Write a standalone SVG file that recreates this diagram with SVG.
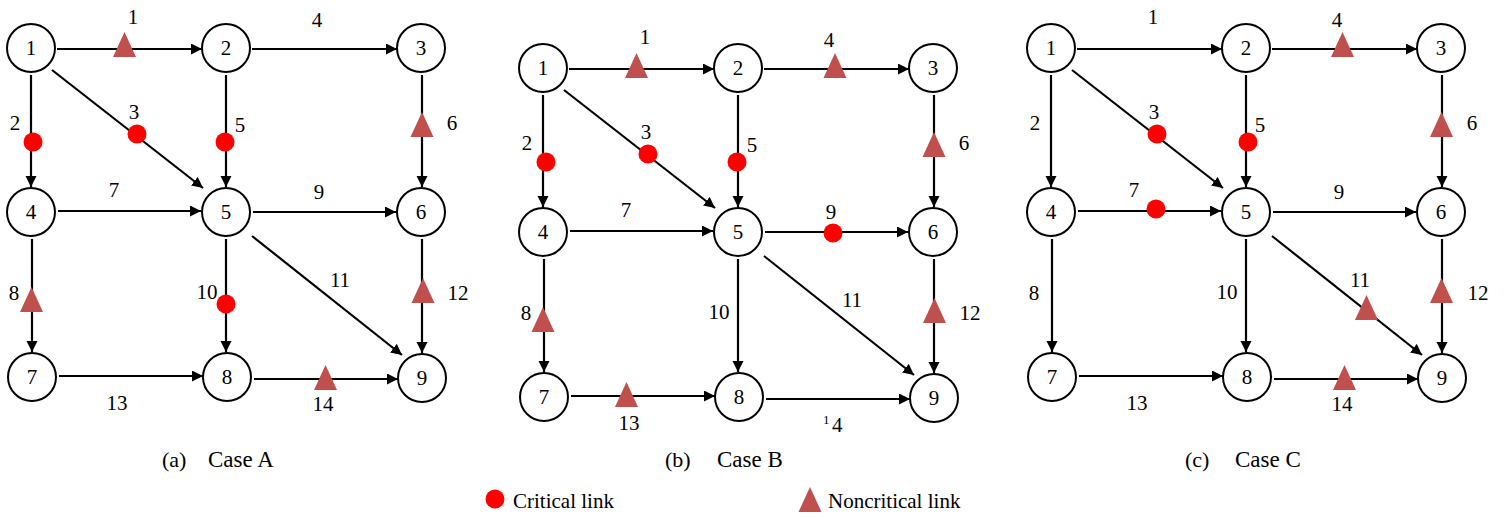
<svg xmlns="http://www.w3.org/2000/svg" width="1505" height="519" viewBox="0 0 1505 519" font-family="'Liberation Serif', 'DejaVu Serif', serif">
  <style>
    .node { fill: #ffffff; stroke: #000000; stroke-width: 2; }
    .edge { stroke: #000000; stroke-width: 2.2; fill: none; marker-end: url(#arrow); }
    text { font-family: 'Liberation Serif', 'DejaVu Serif', serif; fill: #000000; }
    .txt { font-size: 21px; }
    .num { text-anchor: middle; }
    .cap { font-size: 22px; }
    .case { font-size: 23px; }
    .crit { fill: #ff0000; }
    .noncrit { fill: #c0504d; }
  </style>
  <defs>
    <marker id="arrow" markerUnits="userSpaceOnUse" markerWidth="12" markerHeight="12" refX="11" refY="5.5" orient="auto">
      <path d="M0,0 L11,5.5 L0,11 Z" fill="#000000"/>
    </marker>
    <!-- noncritical-link marker: apex at origin, base 25 below -->
    <path id="tri" d="M0,0 L11.5,25 L-11.5,25 Z"/>
    <!-- shared network edges, in panel-local coordinates -->
    <g id="edges">
      <line class="edge" x1="57" y1="49" x2="202" y2="49"/>
      <line class="edge" x1="252" y1="49" x2="397" y2="49"/>
      <line class="edge" x1="31" y1="75" x2="31" y2="187"/>
      <line class="edge" x1="52" y1="70" x2="203" y2="188"/>
      <line class="edge" x1="226" y1="75" x2="226" y2="187"/>
      <line class="edge" x1="422" y1="75" x2="422" y2="187"/>
      <line class="edge" x1="58" y1="211" x2="201" y2="211"/>
      <line class="edge" x1="253" y1="212" x2="396" y2="212"/>
      <line class="edge" x1="32" y1="239" x2="32" y2="352"/>
      <line class="edge" x1="226" y1="239" x2="226" y2="352"/>
      <line class="edge" x1="252" y1="236" x2="402" y2="355"/>
      <line class="edge" x1="422" y1="239" x2="422" y2="353"/>
      <line class="edge" x1="59" y1="376" x2="203" y2="376"/>
      <line class="edge" x1="254" y1="379" x2="398" y2="379"/>
    </g>
    <!-- link numbers 1-13 (14 is placed per panel) -->
    <g id="link-labels" class="txt num">
      <text x="133" y="24">1</text>
      <text x="15" y="130">2</text>
      <text x="134" y="119">3</text>
      <text x="317" y="27">4</text>
      <text x="240" y="132">5</text>
      <text x="452" y="130">6</text>
      <text x="114" y="197">7</text>
      <text x="14" y="300">8</text>
      <text x="319" y="199">9</text>
      <text x="207" y="299">10</text>
      <text x="340" y="287">11</text>
      <text x="458" y="300">12</text>
      <text x="117" y="410">13</text>
    </g>
  </defs>

  <!-- (a) Case A -->
  <g id="case-a">
    <g id="a-connectors"><use href="#edges"/></g>
    <use href="#link-labels"/>
    <text class="txt num" x="323" y="411">14</text>
    <g id="a-n1"><circle class="node" cx="31" cy="48" r="24"/><text class="txt num" x="31" y="55">1</text></g>
    <g id="a-n2"><circle class="node" cx="226" cy="48" r="24"/><text class="txt num" x="226" y="55">2</text></g>
    <g id="a-n3"><circle class="node" cx="421" cy="48" r="24"/><text class="txt num" x="421" y="55">3</text></g>
    <g id="a-n4"><circle class="node" cx="31" cy="212" r="24"/><text class="txt num" x="31" y="219">4</text></g>
    <g id="a-n5"><circle class="node" cx="226" cy="212" r="24"/><text class="txt num" x="226" y="219">5</text></g>
    <g id="a-n6"><circle class="node" cx="421" cy="212" r="24"/><text class="txt num" x="421" y="219">6</text></g>
    <g id="a-n7"><circle class="node" cx="32" cy="377" r="24"/><text class="txt num" x="32" y="384">7</text></g>
    <g id="a-n8"><circle class="node" cx="227" cy="377" r="24"/><text class="txt num" x="227" y="384">8</text></g>
    <g id="a-n9"><circle class="node" cx="422" cy="378" r="24"/><text class="txt num" x="422" y="385">9</text></g>
    <g id="a-status">
      <use href="#tri" class="noncrit" x="124.5" y="32"/>
      <circle class="crit" cx="33" cy="142" r="9.5"/>
      <circle class="crit" cx="137" cy="134" r="9.5"/>
      <circle class="crit" cx="225" cy="142" r="9.5"/>
      <use href="#tri" class="noncrit" x="422" y="112"/>
      <use href="#tri" class="noncrit" x="31.5" y="287"/>
      <circle class="crit" cx="226" cy="304" r="9.5"/>
      <use href="#tri" class="noncrit" x="423" y="278"/>
      <use href="#tri" class="noncrit" x="325.5" y="365"/>
    </g>
    <text class="cap" x="162" y="467">(a)</text>
    <text class="cap case" x="208" y="467">Case A</text>
  </g>

  <!-- (b) Case B -->
  <g id="case-b" transform="translate(512,20)">
    <g id="b-connectors"><use href="#edges"/></g>
    <use href="#link-labels"/>
    <text class="txt" x="311" y="412"><tspan font-size="13" dy="-8">1</tspan><tspan x="320" dy="8">4</tspan></text>
    <g id="b-n1"><circle class="node" cx="31" cy="48" r="24"/><text class="txt num" x="31" y="55">1</text></g>
    <g id="b-n2"><circle class="node" cx="226" cy="48" r="24"/><text class="txt num" x="226" y="55">2</text></g>
    <g id="b-n3"><circle class="node" cx="421" cy="48" r="24"/><text class="txt num" x="421" y="55">3</text></g>
    <g id="b-n4"><circle class="node" cx="31" cy="212" r="24"/><text class="txt num" x="31" y="219">4</text></g>
    <g id="b-n5"><circle class="node" cx="226" cy="212" r="24"/><text class="txt num" x="226" y="219">5</text></g>
    <g id="b-n6"><circle class="node" cx="421" cy="212" r="24"/><text class="txt num" x="421" y="219">6</text></g>
    <g id="b-n7"><circle class="node" cx="32" cy="377" r="24"/><text class="txt num" x="32" y="384">7</text></g>
    <g id="b-n8"><circle class="node" cx="227" cy="377" r="24"/><text class="txt num" x="227" y="384">8</text></g>
    <g id="b-n9"><circle class="node" cx="422" cy="378" r="24"/><text class="txt num" x="422" y="385">9</text></g>
    <g id="b-status">
      <use href="#tri" class="noncrit" x="124.5" y="33"/>
      <use href="#tri" class="noncrit" x="323" y="33"/>
      <circle class="crit" cx="34" cy="142" r="9.5"/>
      <circle class="crit" cx="136" cy="134" r="9.5"/>
      <circle class="crit" cx="225" cy="142" r="9.5"/>
      <use href="#tri" class="noncrit" x="422" y="112"/>
      <circle class="crit" cx="321" cy="213" r="9.5"/>
      <use href="#tri" class="noncrit" x="31" y="287"/>
      <use href="#tri" class="noncrit" x="422.5" y="278"/>
      <use href="#tri" class="noncrit" x="114.5" y="362"/>
    </g>
    <text class="cap" x="153" y="447">(b)</text>
    <text class="cap case" x="205" y="447">Case B</text>
  </g>

  <!-- (c) Case C -->
  <g id="case-c" transform="translate(1020,0)">
    <g id="c-connectors"><use href="#edges"/></g>
    <use href="#link-labels"/>
    <text class="txt num" x="322" y="411">14</text>
    <g id="c-n1"><circle class="node" cx="31" cy="48" r="24"/><text class="txt num" x="31" y="55">1</text></g>
    <g id="c-n2"><circle class="node" cx="226" cy="48" r="24"/><text class="txt num" x="226" y="55">2</text></g>
    <g id="c-n3"><circle class="node" cx="421" cy="48" r="24"/><text class="txt num" x="421" y="55">3</text></g>
    <g id="c-n4"><circle class="node" cx="31" cy="212" r="24"/><text class="txt num" x="31" y="219">4</text></g>
    <g id="c-n5"><circle class="node" cx="226" cy="212" r="24"/><text class="txt num" x="226" y="219">5</text></g>
    <g id="c-n6"><circle class="node" cx="421" cy="212" r="24"/><text class="txt num" x="421" y="219">6</text></g>
    <g id="c-n7"><circle class="node" cx="32" cy="377" r="24"/><text class="txt num" x="32" y="384">7</text></g>
    <g id="c-n8"><circle class="node" cx="227" cy="377" r="24"/><text class="txt num" x="227" y="384">8</text></g>
    <g id="c-n9"><circle class="node" cx="422" cy="378" r="24"/><text class="txt num" x="422" y="385">9</text></g>
    <g id="c-status">
      <use href="#tri" class="noncrit" x="322.5" y="32"/>
      <circle class="crit" cx="137" cy="134" r="9.5"/>
      <circle class="crit" cx="228" cy="142" r="9.5"/>
      <use href="#tri" class="noncrit" x="421.5" y="112"/>
      <circle class="crit" cx="136" cy="209" r="9.5"/>
      <use href="#tri" class="noncrit" x="346.5" y="295"/>
      <use href="#tri" class="noncrit" x="421.5" y="278"/>
      <use href="#tri" class="noncrit" x="324.5" y="365"/>
    </g>
    <text class="cap" x="165" y="467">(c)</text>
    <text class="cap case" x="215" y="467">Case C</text>
  </g>

  <!-- legend -->
  <g id="legend">
    <circle class="crit" cx="495" cy="499" r="9.5"/>
    <text class="txt" x="513" y="508">Critical link</text>
    <use href="#tri" class="noncrit" x="810" y="487"/>
    <text class="txt" x="828" y="508">Noncritical link</text>
  </g>
</svg>
